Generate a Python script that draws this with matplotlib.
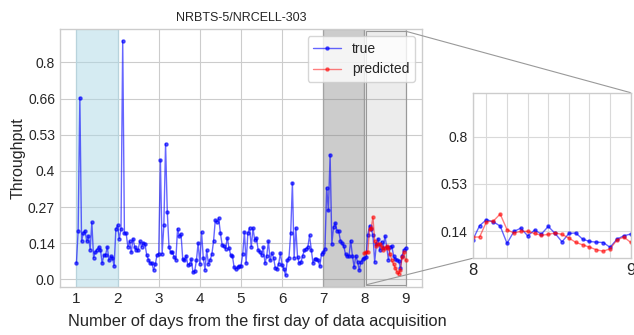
import numpy as np
import matplotlib
matplotlib.use('Agg')
import matplotlib.pyplot as plt
from mpl_toolkits.axes_grid1.inset_locator import mark_inset

# hourly throughput, day 1 .. day 9
day1 = [0.06, 0.18, 0.67, 0.14, 0.17, 0.18, 0.14, 0.16, 0.11, 0.21, 0.08, 0.10,
        0.11, 0.12, 0.11, 0.06, 0.09, 0.09, 0.12, 0.07, 0.085, 0.08, 0.05, 0.185]
day2 = [0.20, 0.15, 0.185, 0.88, 0.17, 0.17, 0.12, 0.14, 0.10, 0.15, 0.12, 0.11,
        0.11, 0.14, 0.12, 0.135, 0.13, 0.09, 0.073, 0.06, 0.06, 0.035, 0.055, 0.09]
day3 = [0.095, 0.44, 0.095, 0.20, 0.50, 0.25, 0.12, 0.10, 0.10, 0.083, 0.072, 0.187,
        0.159, 0.168, 0.076, 0.07, 0.088, 0.052, 0.058, 0.074, 0.027, 0.03, 0.07, 0.134]
day4 = [0.058, 0.175, 0.08, 0.036, 0.107, 0.058, 0.072, 0.092, 0.141, 0.218, 0.212, 0.226,
        0.17, 0.128, 0.122, 0.113, 0.153, 0.116, 0.09, 0.086, 0.045, 0.038, 0.045, 0.05]
day5 = [0.05, 0.092, 0.175, 0.06, 0.17, 0.19, 0.12, 0.19, 0.144, 0.153, 0.11, 0.10,
        0.09, 0.118, 0.06, 0.085, 0.141, 0.07, 0.097, 0.08, 0.043, 0.038, 0.058, 0.097]
day6 = [0.052, 0.04, 0.015, 0.07, 0.08, 0.17, 0.356, 0.08, 0.19, 0.082, 0.06, 0.064,
        0.088, 0.107, 0.113, 0.119, 0.162, 0.11, 0.06, 0.076, 0.076, 0.07, 0.048, 0.095]
day7 = [0.10, 0.113, 0.338, 0.254, 0.46, 0.13, 0.193, 0.208, 0.18, 0.178, 0.143, 0.133,
        0.122, 0.092, 0.088, 0.085, 0.143, 0.088, 0.045, 0.088, 0.064, 0.035, 0.065, 0.075]
day8 = [0.08, 0.083, 0.164, 0.198, 0.186, 0.162, 0.064, 0.132, 0.15, 0.107, 0.139, 0.117,
        0.16, 0.12, 0.073, 0.12, 0.123, 0.088, 0.075, 0.071, 0.069, 0.042, 0.088, 0.107, 0.117]

# prediction for the last day
predicted = [0.096, 0.10, 0.10, 0.186, 0.19, 0.23, 0.141, 0.123, 0.132, 0.132, 0.12, 0.11,
             0.115, 0.123, 0.115, 0.094, 0.07, 0.056, 0.043, 0.028, 0.02, 0.034, 0.083, 0.10, 0.07]

true_vals = np.array(day1 + day2 + day3 + day4 + day5 + day6 + day7 + day8)
pred_vals = np.array(predicted)
x_true = 1 + np.arange(len(true_vals)) / 24
x_pred = 8 + np.arange(len(pred_vals)) / 24

day_ticks = [1, 2, 3, 4, 5, 6, 7, 8, 9]
y_tick_pos = np.linspace(0, 0.8, 7)
y_tick_labels = ['0.0', '0.14', '0.27', '0.4', '0.53', '0.66', '0.8']
inset_y_labels = ['0.14', '0.53', '0.8']

plt.style.use('seaborn-v0_8-whitegrid')
plt.rcParams['font.family'] = ['Liberation Sans', 'DejaVu Sans']

fig = plt.figure(figsize=(6.34, 3.35), dpi=100)
ax = fig.add_axes([0.0946, 0.1433, 0.5710, 0.7701])

ax.axvspan(1, 2, color='lightblue', alpha=0.5)
ax.axvspan(7, 8, color='gray', alpha=0.4)
ax.axvspan(8, 9, color='gray', alpha=0.15)

ax.plot(x_true, true_vals, '.-', color='blue', alpha=0.6, lw=1, ms=4.5, label='true')
ax.plot(x_pred, pred_vals, '.-', color='red', alpha=0.5, lw=1, ms=4.5, label='predicted')

ax.set_xlim(0.6, 9.4)
ax.set_ylim(-0.028, 0.923)
ax.set_xticks(day_ticks)
ax.set_xticklabels([str(d) for d in day_ticks], fontsize=11)
ax.set_yticks(y_tick_pos)
ax.set_yticklabels(y_tick_labels, fontsize=10)
ax.set_title('NRBTS-5/NRCELL-303', fontsize=9)
ax.set_xlabel('Number of days from the first day of data acquisition', fontsize=11.75)
ax.xaxis.set_label_coords(0.545, -0.105)
ax.set_ylabel('Throughput', fontsize=11.5)
ax.yaxis.set_label_coords(-0.095, 0.5)
ax.legend(loc='upper right', frameon=True, framealpha=0.8, edgecolor='0.8', fontsize=10)

# zoomed view of the last day
ax_in = fig.add_axes([0.7456, 0.229, 0.2492, 0.4943])
ax_in.plot(x_true, true_vals, '.-', color='blue', alpha=0.6, lw=1, ms=4.5)
ax_in.plot(x_pred, pred_vals, '.-', color='red', alpha=0.5, lw=1, ms=4.5)
x0 = 8 + 1 / 24
ax_in.set_xlim(x0, 9)
ax_in.set_ylim(-0.02, 0.915)
ax_in.set_xticks([x0, 9])
ax_in.set_xticklabels(['8', '9'], fontsize=12)
ax_in.set_xticks(8 + np.arange(1, 8) / 8, minor=True)
ax_in.set_yticks(y_tick_pos[[1, 3, 5]])
ax_in.set_yticklabels(inset_y_labels, fontsize=10)
ax_in.grid(which='both', color='0.85')

mark_inset(ax, ax_in, loc1=1, loc2=3, fc='none', ec='0.6', lw=0.8)

fig.savefig('out.png', dpi=100)
